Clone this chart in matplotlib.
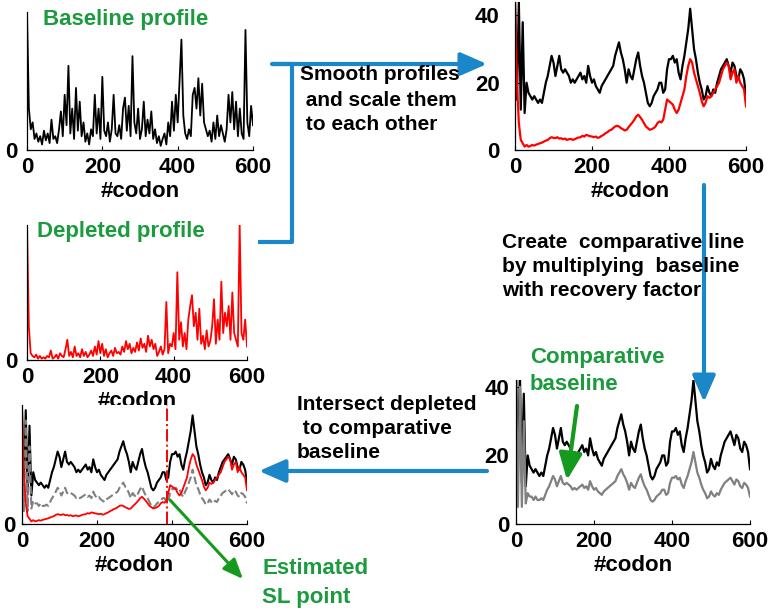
import numpy as np
import matplotlib
matplotlib.use("Agg")
import matplotlib.pyplot as plt

plt.rcParams["font.family"] = ["Liberation Sans", "DejaVu Sans"]
plt.rcParams["font.weight"] = "bold"

# profiles sampled every 5 codons (0..600)
baseline_raw = [100, 30, 15, 20, 8, 12, 6, 10, 4, 14,
                7, 12, 5, 22, 8, 10, 5, 15, 28, 10,
                40, 18, 61, 12, 30, 8, 45, 14, 35, 10,
                20, 6, 12, 4, 15, 10, 40, 12, 30, 8,
                53, 14, 10, 20, 6, 15, 40, 12, 10, 18,
                8, 30, 38, 14, 32, 10, 68, 20, 12, 30,
                8, 15, 35, 10, 22, 12, 28, 8, 15, 5,
                10, 3, 8, 12, 4, 20, 10, 35, 14, 40,
                20, 50, 80, 25, 12, 8, 15, 10, 40, 45,
                30, 52, 25, 48, 20, 15, 10, 14, 6, 20,
                8, 25, 10, 18, 12, 6, 15, 40, 20, 42,
                15, 35, 10, 30, 12, 8, 87, 20, 10, 32,
                18]

depleted_raw = [100, 25, 5, 3, 2, 4, 1, 3, 1, 2,
                1, 3, 2, 7, 1, 2, 4, 1, 5, 3,
                2, 8, 15, 3, 6, 2, 10, 3, 5, 2,
                8, 3, 6, 2, 4, 7, 3, 10, 4, 14,
                5, 12, 3, 8, 2, 5, 7, 3, 9, 5,
                6, 4, 10, 6, 14, 8, 12, 5, 9, 6,
                13, 7, 16, 9, 12, 6, 18, 10, 15, 8,
                12, 3, 6, 10, 4, 8, 43, 5, 12, 10,
                20, 8, 65, 15, 28, 10, 20, 8, 30, 40,
                48, 25, 35, 15, 38, 12, 18, 8, 22, 10,
                14, 25, 45, 12, 30, 15, 58, 20, 35, 25,
                40, 15, 50, 20, 15, 10, 100, 20, 15, 30,
                10]

baseline_smooth = [44, 15, 44, 12, 38, 11, 20, 17, 16, 15,
                   16, 15, 14, 15, 14, 17, 20, 22, 25, 28,
                   26, 22, 25, 28, 24, 23, 24, 23, 22, 20,
                   21, 20, 21, 22, 23, 21, 22, 20, 25, 22,
                   20, 21, 19, 18, 17, 19, 20, 21, 22, 23,
                   24, 25, 28, 30, 32, 29, 27, 24, 20, 24,
                   22, 21, 24, 27, 29, 25, 22, 20, 17, 14,
                   13, 14, 16, 17, 18, 20, 20, 17, 18, 24,
                   27, 27, 28, 26, 27, 23, 21, 25, 28, 32,
                   36, 42, 36, 30, 27, 23, 20, 18, 15, 16,
                   19, 17, 16, 18, 17, 20, 22, 24, 25, 26,
                   27, 25, 23, 26, 25, 22, 21, 24, 23, 21,
                   16]

depleted_smooth = [44, 20, 8, 3, 2, 1, 1.5, 1, 1.2, 1.5,
                   1.3, 1.6, 1.8, 2, 2.2, 2.5, 2.8, 3, 3.5, 3.8,
                   3.6, 3.5, 3.8, 3.4, 3.5, 3.2, 3.4, 3, 3.2, 3.3,
                   3, 3.2, 3.5, 3.7, 3.8, 4.2, 4, 4.5, 4.3, 4.1,
                   4, 3.8, 4, 3.6, 3.8, 4.2, 4.5, 5, 5.3, 5.8,
                   6, 6.5, 7, 7.2, 7, 6.5, 6.2, 5.8, 6, 6.8,
                   7.5, 8.2, 9, 10, 10.5, 9.8, 9, 8, 7, 6.5,
                   6, 6.2, 6.5, 7, 8, 8.5, 8.2, 9, 12, 15,
                   14.5, 14, 13.5, 12, 11, 12, 14, 16, 18, 22,
                   25, 27, 26, 23, 21, 19, 17, 14.5, 13, 14,
                   16, 15.5, 16, 17, 18, 19, 20, 22, 24, 25,
                   26, 25, 21, 23, 24, 20, 22, 20, 19, 18,
                   13]

comparative = [44, 5, 40, 5, 30, 6, 9, 8, 8, 7,
               8, 7, 7, 7.5, 7, 8.5, 10, 11, 12.5, 14,
               13, 11, 12.5, 14, 12, 11.5, 12, 11.5, 11, 10,
               10.5, 10, 10.5, 11, 11.5, 10.5, 11, 10, 12.5, 11,
               10, 10.5, 9.5, 9, 8.5, 9.5, 10, 10.5, 11, 11.5,
               12, 12.5, 14, 15, 16, 14.5, 13.5, 12, 10, 12,
               11, 10.5, 12, 13.5, 14.5, 12.5, 11, 10, 8.5, 7,
               6.5, 7, 8, 8.5, 9, 10, 10, 8.5, 9, 12,
               13.5, 13.5, 14, 13, 13.5, 11.5, 10.5, 12.5, 14, 16,
               18, 21, 18, 15, 13.5, 11.5, 10, 9, 7.5, 8,
               9.5, 8.5, 8, 9, 8.5, 10, 11, 12, 12.5, 13,
               13.5, 12.5, 11.5, 13, 12.5, 11, 10.5, 12, 11.5, 10.5,
               8]

sl_point = 387
xticks = [0, 200, 400, 600]

GREEN = "#1b9a3e"
ARROW_GREEN = "#159a1e"
BLUE = "#1b87c9"
W, H = 773, 614


def xs(v):
    return np.linspace(0, 600, len(v))


fig = plt.figure(figsize=(W / 100, H / 100), dpi=100)


def panel(left, top, right, bottom, ymax, yticks, ypad):
    ax = fig.add_axes([left / W, 1 - bottom / H, (right - left) / W, (bottom - top) / H])
    ax.set_xlim(0, 600)
    ax.set_ylim(0, ymax)
    ax.set_xticks(xticks)
    ax.set_yticks(yticks)
    for s in ["top", "right"]:
        ax.spines[s].set_visible(False)
    for s in ["left", "bottom"]:
        ax.spines[s].set_linewidth(0.9)
    ax.tick_params(axis="both", direction="in", length=3, labelsize=16)
    ax.tick_params(axis="x", pad=5)
    ax.tick_params(axis="y", pad=ypad)
    ax.set_xlabel("#codon", fontsize=16, fontweight="bold", labelpad=2)
    return ax


# baseline raw
ax1 = panel(27, 12, 253, 150, 100, [0], 7)
ax1.plot(xs(baseline_raw), baseline_raw, color="black", lw=1.3)

# depleted raw
ax3 = panel(27, 225, 247, 360, 100, [0], 7)
ax3.plot(xs(depleted_raw), depleted_raw, color="red", lw=1.3)

# smoothed and scaled
ax2 = panel(515, 2, 746, 150, 44, [0, 20, 40], 11)
ax2.plot(xs(baseline_smooth), baseline_smooth, color="black", lw=1.6)
ax2.plot(xs(depleted_smooth), depleted_smooth, color="red", lw=1.6)

# comparative baseline
ax5 = panel(516, 380, 750, 524, 42, [0, 20, 40], 5)
ax5.plot(xs(baseline_smooth), baseline_smooth, color="black", lw=1.6)
ax5.plot(xs(comparative), comparative, color="#808080", lw=1.6)

# intersection
ax4 = panel(22, 405, 247, 524, 46, [0], 5)
ax4.plot(xs(baseline_smooth), baseline_smooth, color="black", lw=1.5)
ax4.plot(xs(comparative), comparative, color="#808080", lw=1.5, ls="--")
ax4.plot(xs(depleted_smooth), depleted_smooth, color="red", lw=1.3)
ax4.axvline(sl_point, color="red", lw=1.4, ls="-.")

# overlay in pixel coordinates for arrows and notes
ov = fig.add_axes([0, 0, 1, 1])
ov.set_xlim(0, W)
ov.set_ylim(H, 0)
ov.axis("off")


def arrow(x0, y0, x1, y1, color, lw, hl, hw):
    ov.annotate("", xy=(x1, y1), xytext=(x0, y0),
                arrowprops=dict(arrowstyle=f"-|>,head_length={hl},head_width={hw}",
                                mutation_scale=1, color=color, lw=lw,
                                shrinkA=0, shrinkB=0))


ov.plot([258, 292, 292, 272], [242, 242, 64, 64], color=BLUE, lw=3, solid_capstyle="butt")
arrow(272, 64, 487, 64, BLUE, 3, 16, 7)
arrow(704, 185, 704, 402, BLUE, 3, 16, 7)
arrow(487, 471, 259, 471, BLUE, 3, 16, 7)
arrow(170, 500, 243, 579, ARROW_GREEN, 2.2, 12, 5)
arrow(577, 406, 567, 480, ARROW_GREEN, 3, 16, 7)


def note(x, ys, lines, color="black", size=15):
    for y, s in zip(ys, lines):
        ov.text(x, y, s, color=color, fontsize=size, fontweight="bold",
                ha="left", va="center")


note(43, [20], ["Baseline profile"], GREEN, 16)
note(37, [232], ["Depleted profile"], GREEN, 16)
note(300, [75, 100, 125], ["Smooth profiles", " and scale them", " to each other"])
note(502, [242, 267, 291], ["Create  comparative line", "by multiplying  baseline",
                             "with recovery factor"])
note(530, [358, 385], ["Comparative", "baseline"], GREEN, 16)
note(297, [405, 429, 453], ["Intersect depleted", " to comparative", "baseline"])
note(262, [568, 597], ["Estimated", "SL point"], GREEN, 16)

fig.savefig("out.png", dpi=100)
